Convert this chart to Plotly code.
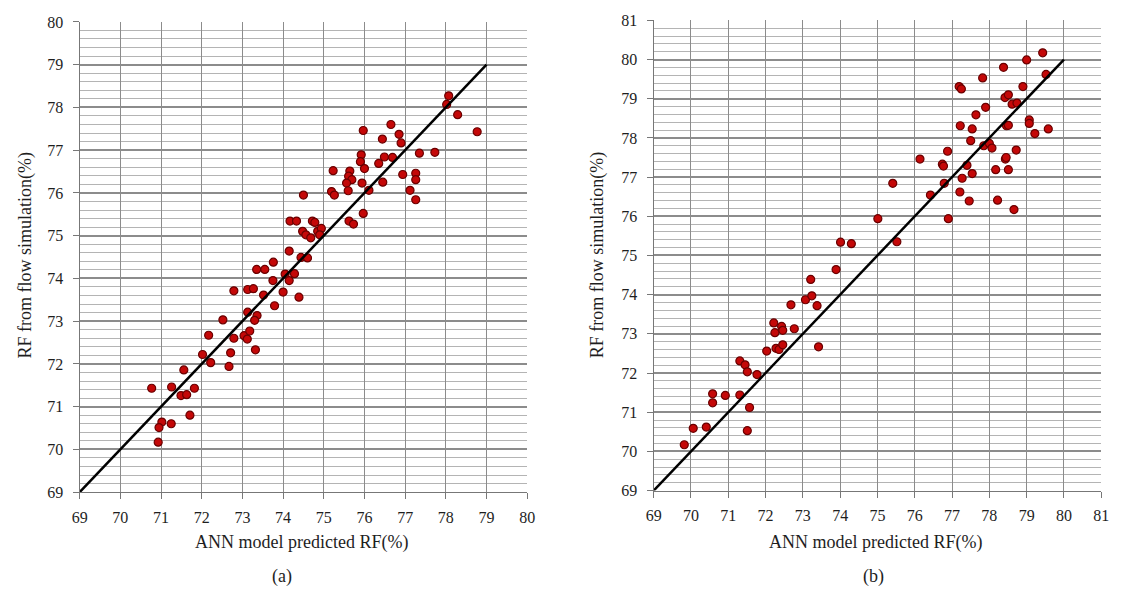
import plotly.graph_objects as go

# Panel (a): ANN predicted vs flow simulation
a_pred = [70.77, 71.26, 71.82, 71.49, 71.63, 71.56, 71.71, 71.02, 70.95, 71.25, 70.93,
          72.02, 72.22, 72.17, 72.52, 72.67, 72.71, 72.79, 72.79, 73.04, 73.12, 73.18,
          73.32, 73.13, 73.36, 73.30, 73.13, 73.27, 73.35, 73.55, 73.52, 73.76, 73.75,
          73.79, 74.00, 74.05, 74.15, 74.15, 74.28, 74.39, 74.44, 74.60,
          78.07, 78.02, 78.29, 78.77, 76.65, 75.97, 76.44, 76.85, 76.90, 77.35, 77.73,
          75.92, 75.90, 76.00, 76.49, 76.69, 76.35, 75.23, 75.64, 75.61, 75.69, 75.56,
          75.94, 76.45, 76.94, 77.26, 77.26, 77.12, 77.26, 75.19, 75.26, 75.60, 76.11,
          75.97, 74.50, 74.17, 74.33, 74.72, 74.78, 74.48, 74.56, 74.68, 74.85, 74.94,
          74.90, 75.62, 75.73]
a_sim = [71.43, 71.46, 71.43, 71.26, 71.28, 71.86, 70.80, 70.64, 70.51, 70.60, 70.17,
         72.22, 72.03, 72.67, 73.03, 71.94, 72.26, 72.60, 73.71, 72.66, 72.58, 72.77,
         72.33, 73.21, 73.13, 73.02, 73.74, 73.76, 74.21, 74.21, 73.61, 74.38, 73.95,
         73.36, 73.68, 74.10, 73.95, 74.64, 74.11, 73.56, 74.49, 74.48,
         78.27, 78.07, 77.83, 77.43, 77.60, 77.46, 77.26, 77.37, 77.17, 76.93, 76.95,
         76.89, 76.73, 76.57, 76.84, 76.83, 76.69, 76.52, 76.51, 76.39, 76.31, 76.23,
         76.23, 76.25, 76.43, 76.46, 76.31, 76.06, 75.84, 76.03, 75.95, 76.05, 76.06,
         75.52, 75.95, 75.34, 75.34, 75.34, 75.31, 75.10, 75.02, 74.95, 75.10, 75.17,
         75.02, 75.34, 75.27]

# Panel (b)
b_pred = [69.82, 70.06, 70.41, 70.58, 70.58, 70.92, 71.31, 71.57, 71.51, 71.31, 71.45,
          71.51, 71.77, 72.03, 72.22, 72.25, 72.43, 72.46, 72.77, 72.28, 72.36, 72.46,
          72.68, 73.07, 73.24, 73.21, 73.38, 73.42, 73.89, 74.01, 74.30,
          75.01, 75.52, 76.90, 75.41, 76.14, 76.42, 76.79, 76.74, 76.77, 76.88, 77.21,
          77.46, 77.27, 77.54, 77.40, 77.50, 77.22, 77.54, 77.64, 77.90, 77.85, 78.00,
          78.07, 78.17, 78.22, 78.43, 78.45, 78.51, 78.72, 78.66, 78.46, 78.51, 78.42,
          78.51, 78.61, 78.74, 78.90, 79.07, 79.07, 79.22, 79.58, 78.38, 77.82, 77.19,
          77.25, 79.00, 79.43, 79.52]
b_sim = [70.17, 70.59, 70.62, 71.47, 71.24, 71.43, 71.44, 71.12, 70.53, 72.31, 72.21,
         72.03, 71.96, 72.56, 73.28, 73.03, 73.19, 73.09, 73.13, 72.63, 72.60, 72.72,
         73.74, 73.87, 73.97, 74.39, 73.72, 72.67, 74.64, 75.34, 75.30,
         75.94, 75.35, 75.94, 76.84, 77.46, 76.54, 76.84, 77.33, 77.28, 77.66, 76.62,
         76.39, 76.97, 77.09, 77.30, 77.93, 78.31, 78.23, 78.59, 78.78, 77.80, 77.86,
         77.74, 77.19, 76.41, 77.46, 77.50, 77.19, 77.69, 76.17, 78.31, 78.32, 79.03,
         79.10, 78.86, 78.89, 79.31, 78.46, 78.37, 78.11, 78.23, 79.80, 79.53, 79.31,
         79.25, 79.99, 80.17, 79.62]

a_line = [69, 79]
b_line = [69, 80]

a_ticks = list(range(69, 81))
b_ticks = list(range(69, 82))

FONT = "Liberation Serif, Times New Roman, DejaVu Serif, serif"
TXT = "#1e1e1e"
marker = dict(color="#c40808", size=8, line=dict(color="#6a0000", width=1.2))

fig = go.Figure()
fig.add_trace(go.Scatter(x=a_pred, y=a_sim, mode="markers", marker=marker, xaxis="x", yaxis="y", showlegend=False))
fig.add_trace(go.Scatter(x=a_line, y=a_line, mode="lines", line=dict(color="black", width=2.5), xaxis="x", yaxis="y", showlegend=False))
fig.add_trace(go.Scatter(x=b_pred, y=b_sim, mode="markers", marker=marker, xaxis="x2", yaxis="y2", showlegend=False))
fig.add_trace(go.Scatter(x=b_line, y=b_line, mode="lines", line=dict(color="black", width=2.5), xaxis="x2", yaxis="y2", showlegend=False))

W, H = 1126, 599

def xax(domain, ticks, anchor):
    return dict(domain=domain, range=[ticks[0], ticks[-1]], tickvals=ticks, anchor=anchor,
                showgrid=True, gridcolor="#8c8c8c", gridwidth=1.3, zeroline=False,
                showline=True, linecolor="#777", linewidth=1.3, ticks="outside", ticklen=6,
                tickcolor="#777", tickfont=dict(family=FONT, size=16, color=TXT),
                ticklabelstandoff=4, mirror=False)

def yax(domain, ticks, anchor):
    return dict(domain=domain, range=[ticks[0], ticks[-1]], tickvals=ticks, anchor=anchor,
                showgrid=True, gridcolor="#8c8c8c", gridwidth=1.6, zeroline=False,
                showline=True, linecolor="#777", linewidth=1.3, ticks="outside", ticklen=6,
                tickcolor="#777", tickfont=dict(family=FONT, size=16, color=TXT),
                ticklabelstandoff=6,
                minor=dict(dtick=0.2, showgrid=True, gridcolor="#b4b4b4", gridwidth=1))

fig.update_layout(
    width=W, height=H, margin=dict(l=0, r=0, t=0, b=0),
    paper_bgcolor="white", plot_bgcolor="white",
    xaxis=xax([72.7 / W, 526.7 / W], a_ticks, "y"),
    yaxis=yax([1 - 498.3 / H, 1 - 14.3 / H], a_ticks, "x"),
    xaxis2=xax([655 / W, 1109 / W], b_ticks, "y2"),
    yaxis2=yax([1 - 496.7 / H, 1 - 12.7 / H], b_ticks, "x2"),
)

ann = [
    dict(text="ANN model predicted RF(%)", x=298 / W, y=1 - 550 / H, size=18),
    dict(text="ANN model predicted RF(%)", x=880 / W, y=1 - 550 / H, size=18),
    dict(text="(a)", x=278 / W, y=1 - 585 / H, size=18),
    dict(text="(b)", x=878 / W, y=1 - 585 / H, size=18),
]
for a in ann:
    fig.add_annotation(xref="paper", yref="paper", showarrow=False, xanchor="center", yanchor="middle",
                       text=a["text"], x=a["x"], y=a["y"],
                       font=dict(family=FONT, size=a["size"], color=TXT))
for xpos in (18, 598):
    fig.add_annotation(xref="paper", yref="paper", showarrow=False, textangle=-90,
                       xanchor="center", yanchor="middle",
                       text="RF from flow simulation(%)", x=xpos / W, y=1 - 255 / H,
                       font=dict(family=FONT, size=18, color=TXT))

fig.write_html("out.html")
